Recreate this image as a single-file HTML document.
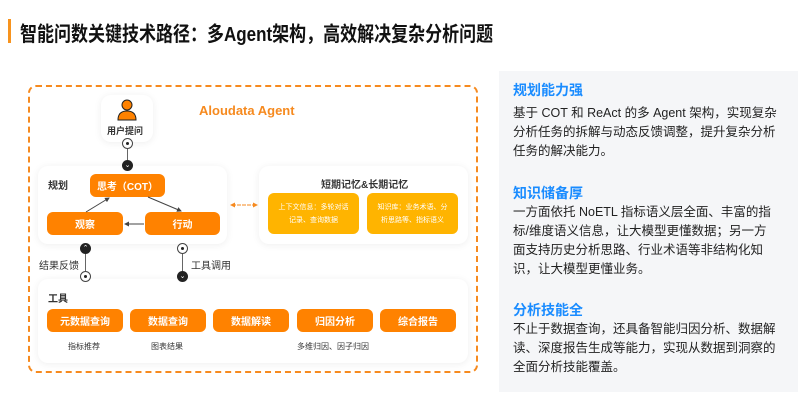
<!DOCTYPE html>
<html><head><meta charset="utf-8"><style>
*{margin:0;padding:0;box-sizing:border-box}
body{width:798px;height:407px;background:#fff;position:relative;overflow:hidden;font-family:"Liberation Sans","Noto Sans CJK SC",sans-serif;color:#222}
.a{position:absolute}
.title{left:20px;top:17px;font-size:17px;font-weight:bold;color:#111;white-space:nowrap;transform:scaleY(1.2);transform-origin:left top}
.bar{left:8px;top:19px;width:3px;height:24px;background:#f7931e}
.dash{left:28px;top:85px;width:450px;height:288px;border:2px dashed #f68a1f;border-radius:8px}
.card{background:#fff;border-radius:10px;box-shadow:0 1px 8px rgba(0,0,0,0.07)}
.on{background:#ff8200;color:#fff;border-radius:6px;font-size:10px;display:flex;align-items:center;justify-content:center;font-weight:bold}
.y{background:#ffb400;color:#fff;border-radius:6px;font-size:7px;text-align:center;display:flex;align-items:center;justify-content:center;line-height:13px;padding:0 8px}
.lbl{font-size:10px;font-weight:bold;color:#333}
.sm{font-size:9px;color:#333}
.z{z-index:5}
.circ{width:11px;height:11px;border-radius:50%;border:1.5px solid #444;background:#fff;z-index:5}
.circ::after{content:"";position:absolute;left:2.5px;top:2.5px;width:3px;height:3px;border-radius:50%;background:#222}
.chev{width:11px;height:11px;border-radius:50%;background:#222;color:#fff;font-size:7px;text-align:center;line-height:11px;z-index:5}
.vl{width:1px;background:#666;z-index:4}
.rp{left:499px;top:71px;width:299px;height:321px;background:#f5f6f8}
.h{font-size:14px;font-weight:bold;color:#1a8cff}
.p{font-size:12.5px;line-height:19px;color:#222;width:264px}
</style></head><body>
<div class="a bar"></div>
<div class="a title">智能问数关键技术路径：多Agent架构，高效解决复杂分析问题</div>
<div class="a dash"></div>
<div class="a" style="left:199px;top:103px;font-size:13px;font-weight:bold;color:#f68a1f">Aloudata Agent</div>
<div class="a card" style="left:101px;top:95px;width:52px;height:47px"></div>
<svg class="a" style="left:117px;top:99px" width="20" height="22" viewBox="0 0 20 22"><circle cx="10" cy="6" r="5" fill="#ff8200" stroke="#222" stroke-width="1"/><path d="M1 21 Q1 12 10 12 Q19 12 19 21 Z" fill="#ff8200" stroke="#222" stroke-width="1"/></svg>
<div class="a lbl" style="left:107px;top:124px;font-size:9px">用户提问</div>
<div class="a vl" style="left:127px;top:148px;height:14px"></div>
<div class="a circ" style="left:122px;top:138px"></div>
<div class="a chev" style="left:122px;top:160px">⌄</div>
<div class="a card" style="left:38px;top:166px;width:189px;height:78px"></div>
<div class="a lbl" style="left:48px;top:177px">规划</div>
<div class="a on" style="left:90px;top:174px;width:75px;height:23px">思考（COT）</div>
<div class="a on" style="left:47px;top:212px;width:76px;height:23px">观察</div>
<div class="a on" style="left:145px;top:212px;width:75px;height:23px">行动</div>
<svg class="a z" style="left:0;top:0" width="480" height="300"><defs><marker id="m" markerWidth="5" markerHeight="5" refX="4" refY="2.5" orient="auto"><path d="M0 0L5 2.5L0 5Z" fill="#444"/></marker><marker id="o" markerWidth="5" markerHeight="5" refX="4" refY="2.5" orient="auto"><path d="M0 0L5 2.5L0 5Z" fill="#f68a1f"/></marker></defs>
<line x1="86" y1="212" x2="109" y2="198" stroke="#444" stroke-width="1" marker-end="url(#m)"/>
<line x1="148" y1="197" x2="181" y2="211" stroke="#444" stroke-width="1" marker-end="url(#m)"/>
<line x1="144" y1="224" x2="125" y2="224" stroke="#444" stroke-width="1" marker-end="url(#m)"/>
<line x1="233" y1="205" x2="257" y2="205" stroke="#f68a1f" stroke-width="1" stroke-dasharray="3,2" marker-end="url(#o)"/>
<line x1="255" y1="205" x2="231" y2="205" stroke="#f68a1f" stroke-width="1" stroke-dasharray="3,2" marker-end="url(#o)"/>
</svg>
<div class="a card" style="left:259px;top:166px;width:209px;height:78px"></div>
<div class="a lbl" style="left:321px;top:176px;font-size:10px">短期记忆&amp;长期记忆</div>
<div class="a y" style="left:268px;top:193px;width:91px;height:41px">上下文信息：多轮对话记录、查询数据</div>
<div class="a y" style="left:367px;top:193px;width:91px;height:41px">知识库：业务术语、分析思路等、指标语义</div>
<div class="a vl" style="left:85px;top:250px;height:26px"></div>
<div class="a chev" style="left:80px;top:243px">⌃</div>
<div class="a circ" style="left:80px;top:271px"></div>
<div class="a sm" style="left:39px;top:257px;font-size:10px">结果反馈</div>
<div class="a vl" style="left:182px;top:250px;height:26px"></div>
<div class="a circ" style="left:177px;top:243px"></div>
<div class="a chev" style="left:177px;top:271px">⌄</div>
<div class="a sm" style="left:191px;top:257px;font-size:10px">工具调用</div>
<div class="a card" style="left:38px;top:279px;width:430px;height:84px"></div>
<div class="a lbl" style="left:48px;top:290px">工具</div>
<div class="a on" style="left:47px;top:309px;width:76px;height:23px">元数据查询</div>
<div class="a on" style="left:130px;top:309px;width:76px;height:23px">数据查询</div>
<div class="a on" style="left:213px;top:309px;width:76px;height:23px">数据解读</div>
<div class="a on" style="left:297px;top:309px;width:76px;height:23px">归因分析</div>
<div class="a on" style="left:380px;top:309px;width:76px;height:23px">综合报告</div>
<div class="a sm" style="left:68px;top:341px;font-size:8px">指标推荐</div>
<div class="a sm" style="left:151px;top:341px;font-size:8px">图表结果</div>
<div class="a sm" style="left:297px;top:341px;font-size:8px">多维归因、因子归因</div>
<div class="a rp"></div>
<div class="a h" style="left:513px;top:80px">规划能力强</div>
<div class="a p" style="left:513px;top:104px">基于 COT 和 ReAct 的多 Agent 架构，实现复杂分析任务的拆解与动态反馈调整，提升复杂分析任务的解决能力。</div>
<div class="a h" style="left:513px;top:183px">知识储备厚</div>
<div class="a p" style="left:513px;top:203px">一方面依托 NoETL 指标语义层全面、丰富的指标/维度语义信息，让大模型更懂数据；另一方面支持历史分析思路、行业术语等非结构化知识，让大模型更懂业务。</div>
<div class="a h" style="left:513px;top:300px">分析技能全</div>
<div class="a p" style="left:513px;top:320px">不止于数据查询，还具备智能归因分析、数据解读、深度报告生成等能力，实现从数据到洞察的全面分析技能覆盖。</div>
</body></html>
